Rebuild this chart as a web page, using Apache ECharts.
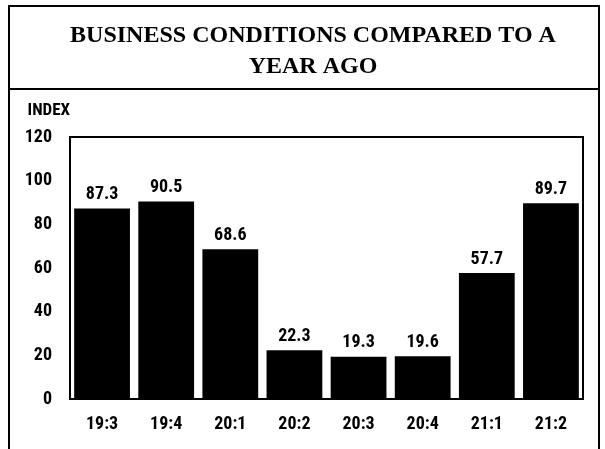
<!DOCTYPE html>
<html>
<head>
<meta charset="utf-8">
<script src="https://cdn.jsdelivr.net/npm/echarts@6/dist/echarts.min.js"></script>
<style>
html,body{margin:0;padding:0;background:#fff;}
#c{width:605px;height:449px;}
</style>
</head>
<body>
<div id="c"></div>
<script>
const categories = ['19:3','19:4','20:1','20:2','20:3','20:4','21:1','21:2'];
const values = [87.3, 90.5, 68.6, 22.3, 19.3, 19.6, 57.7, 89.7];
const yTicks = [0, 20, 40, 60, 80, 100, 120];
const titleLines = ['BUSINESS CONDITIONS COMPARED TO A', 'YEAR AGO'];
const yName = 'INDEX';

const narrow = "'Liberation Sans Narrow','Arial Narrow','Roboto Condensed','Liberation Sans',Arial,sans-serif";
const chart = echarts.init(document.getElementById('c'));
chart.setOption({
  backgroundColor: '#fff',
  animation: false,
  graphic: [
    { type: 'polyline', shape: { points: [[9, 460], [9, 6], [599, 6], [599, 460]] },
      style: { stroke: '#000', lineWidth: 2, fill: null } },
    { type: 'line', shape: { x1: 9, y1: 89, x2: 599, y2: 89 },
      style: { stroke: '#000', lineWidth: 2 } },
    { type: 'text', x: 313, y: 36,
      style: { text: titleLines[0], textAlign: 'center', textVerticalAlign: 'middle',
        font: "bold 24px 'Liberation Serif','Times New Roman',serif", fill: '#000' } },
    { type: 'text', x: 313, y: 67,
      style: { text: titleLines[1], textAlign: 'center', textVerticalAlign: 'middle',
        font: "bold 24px 'Liberation Serif','Times New Roman',serif", fill: '#000' } }
  ],
  grid: { left: 70, right: 22, top: 137, bottom: 50, show: true, borderColor: '#000', borderWidth: 2, backgroundColor: '#fff' },
  xAxis: {
    type: 'category', data: categories,
    axisLine: { show: true, lineStyle: { color: '#000', width: 2 } },
    axisTick: { show: false },
    axisLabel: { color: '#000', fontWeight: 'bold', fontSize: 18, fontFamily: narrow, margin: 16 },
    splitLine: { show: false }
  },
  yAxis: {
    type: 'value', min: yTicks[0], max: yTicks[yTicks.length - 1], interval: yTicks[1] - yTicks[0],
    name: yName, nameLocation: 'end', nameGap: 18,
    nameTextStyle: { color: '#000', fontWeight: 'bold', fontSize: 17, fontFamily: narrow, align: 'right' },
    axisLine: { show: false }, axisTick: { show: false }, splitLine: { show: false },
    axisLabel: { color: '#000', fontWeight: 'bold', fontSize: 18, fontFamily: narrow, margin: 18 }
  },
  series: [{
    type: 'bar', data: values, barCategoryGap: '13%',
    itemStyle: { color: '#000' },
    label: { show: true, position: 'top', distance: 5, color: '#000', fontWeight: 'bold', fontSize: 18, fontFamily: narrow,
      formatter: p => p.value.toFixed(1) }
  }]
});
</script>
</body>
</html>
